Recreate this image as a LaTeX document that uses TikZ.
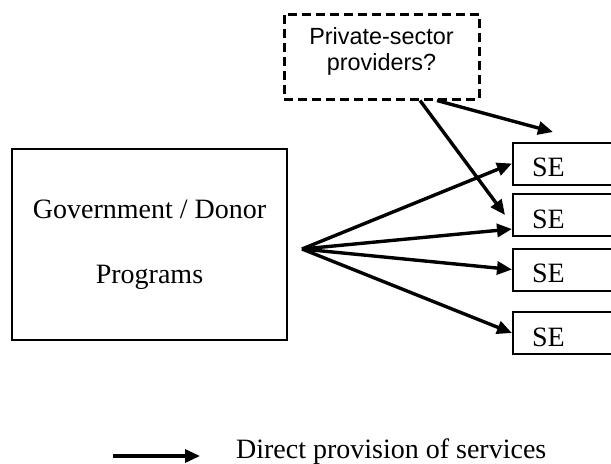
\documentclass[tikz,border=0pt]{standalone}
\usepackage{fontspec}
\setmainfont{Liberation Serif}
\newfontfamily\arialfont{Liberation Sans}
\usetikzlibrary{arrows.meta}

\begin{document}
\begin{tikzpicture}[x=0.5pt, y=-0.5pt, >={Triangle[length=7.5pt, width=6.5pt]}]
% --- Global Styles ---
\tikzstyle{flow} = [->, line width=1.7pt]
\tikzstyle{govbox} = [draw, line width=1pt, minimum width=137.5pt, minimum height=95.5pt, align=center, font=\fontsize{14}{32.5}\selectfont]
\tikzstyle{privbox} = [draw, line width=1.5pt, dash pattern=on 4.5pt off 2.5pt, minimum width=97.5pt, minimum height=42.5pt, align=center, text depth=7.5pt, font=\arialfont\fontsize{11.7}{13}\selectfont]
\tikzstyle{sebox} = [draw, line width=1pt, anchor=west, text width=40pt, align=left, inner xsep=9.5pt, inner ysep=0pt, text height=17pt, text depth=4pt, font=\fontsize{14}{16}\selectfont]

% --- Page frame ---
\useasboundingbox (0,0) rectangle (611,463);
\clip (0,0) rectangle (611,463);

% ==========================================
% LEFT: Programs box
% ==========================================
\node[govbox] (gov) at (149.5,244.5) {Government / Donor\\Programs};
\coordinate (fan) at (302,249);

% ==========================================
% TOP: Private providers (dashed)
% ==========================================
\node[privbox] (priv) at (381.5,56.5) {Private-sector\\providers?};

% ==========================================
% RIGHT: SE boxes
% ==========================================
\node[sebox] (se1) at (512,163.5) {SE};
\node[sebox] (se2) at (512,215) {SE};
\node[sebox] (se3) at (512,269.5) {SE};
\node[sebox] (se4) at (512,333) {SE};

% Fan of arrows from the programs
\draw[flow] (fan) -- (se1.west);
\draw[flow] (fan) -- ([yshift=-7pt]se2.west);
\draw[flow] (fan) -- (se3.west);
\draw[flow] (fan) -- (se4.west);

% Arrows from the private providers
\coordinate (pend) at (553,132);
\draw[flow] ([xshift=27.75pt]priv.south) -- (pend);
\draw[flow] ([xshift=19.25pt]priv.south) -- ([xshift=-3.5pt]se2.west);

% ==========================================
% BOTTOM: Legend
% ==========================================
\node[anchor=west, font=\fontsize{14}{16}\selectfont] (legend) at (229,452) {Direct provision of services};
\coordinate (lstart) at (113,456);
\draw[flow] (lstart) -- ([xshift=-14.5pt, yshift=-2pt]legend.west);

\end{tikzpicture}
\end{document}
